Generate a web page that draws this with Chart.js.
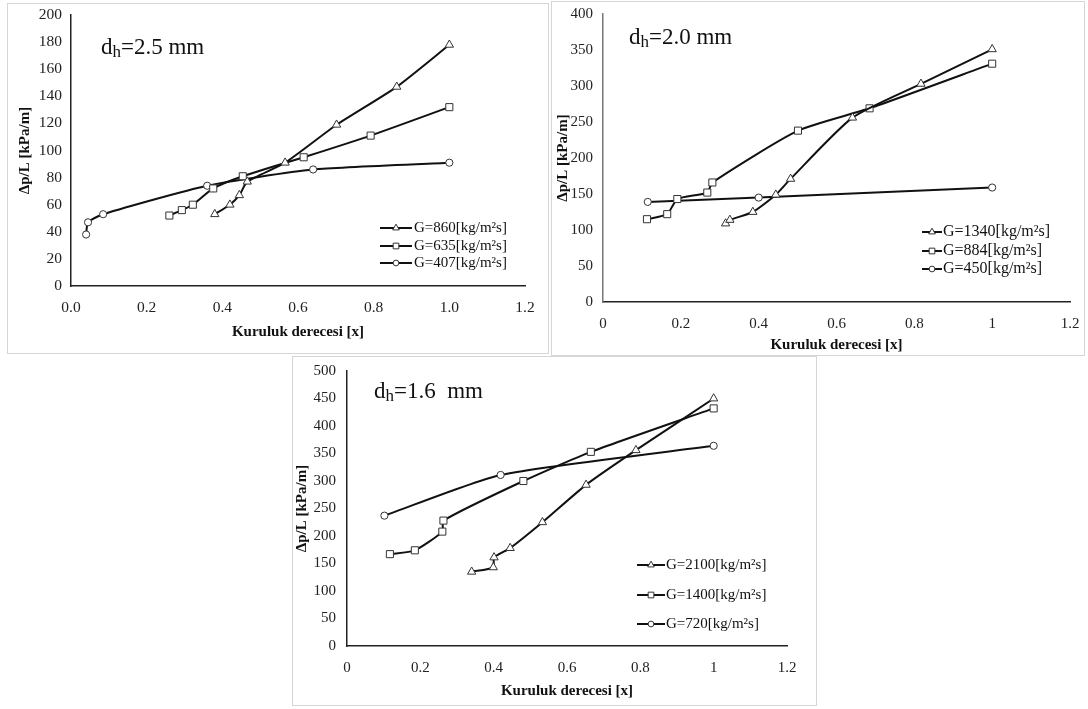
<!DOCTYPE html>
<html><head><meta charset="utf-8">
<script src="https://cdn.jsdelivr.net/npm/chart.js@4/dist/chart.umd.min.js"></script>
<style>
body{margin:0;background:#fff;width:1088px;height:709px;position:relative;overflow:hidden;font-family:"Liberation Serif","Times New Roman",serif;}
.frame{position:absolute;border:1px solid #d6d6d6;box-sizing:border-box;}
canvas{position:absolute;}
.ttl{position:absolute;font-size:23px;line-height:22px;color:#111;white-space:pre;}
.ttl sub{font-size:17px;vertical-align:baseline;position:relative;top:3px;}
</style></head><body>
<div class="frame" style="left:7px;top:3px;width:542px;height:351px"></div>
<div class="frame" style="left:551px;top:1px;width:534px;height:355px"></div>
<div class="frame" style="left:292px;top:356px;width:525px;height:350px"></div>
<canvas id="c1" width="541" height="350" style="left:7px;top:3px"></canvas>
<canvas id="c2" width="533" height="353" style="left:551px;top:2px"></canvas>
<canvas id="c3" width="522" height="348" style="left:293px;top:357px"></canvas>
<div class="ttl" style="left:101px;top:36px">d<sub>h</sub>=2.5 mm</div>
<div class="ttl" style="left:629px;top:26px">d<sub>h</sub>=2.0 mm</div>
<div class="ttl" style="left:374px;top:380px">d<sub>h</sub>=1.6  mm</div>
<script>
// ---- tick labels ----
const xTickValues = [0, 0.2, 0.4, 0.6, 0.8, 1.0, 1.2];
const xTickLabels1 = ['0.0', '0.2', '0.4', '0.6', '0.8', '1.0', '1.2'];
const xTickLabels23 = ['0', '0.2', '0.4', '0.6', '0.8', '1', '1.2'];
const yTicks1 = [0, 20, 40, 60, 80, 100, 120, 140, 160, 180, 200];
const yTicks2 = [0, 50, 100, 150, 200, 250, 300, 350, 400];
const yTicks3 = [0, 50, 100, 150, 200, 250, 300, 350, 400, 450, 500];

// ---- chart 1: dh = 2.5 mm ----
const labels1 = ['G=860[kg/m²s]', 'G=635[kg/m²s]', 'G=407[kg/m²s]'];
const x1_860 = [0.38, 0.42, 0.445, 0.466, 0.566, 0.702, 0.861, 1.0];
const y1_860 = [53, 60, 67, 77, 91, 119, 147, 178];
const x1_635 = [0.26, 0.293, 0.322, 0.376, 0.454, 0.615, 0.792, 1.0];
const y1_635 = [52, 56, 60, 72, 81, 95, 111, 132];
const x1_407 = [0.04, 0.045, 0.085, 0.36, 0.64, 1.0];
const y1_407 = [38, 47, 53, 74, 86, 91];

// ---- chart 2: dh = 2.0 mm ----
const labels2 = ['G=1340[kg/m²s]', 'G=884[kg/m²s]', 'G=450[kg/m²s]'];
const x2_1340 = [0.315, 0.326, 0.385, 0.444, 0.482, 0.641, 0.817, 1.0];
const y2_1340 = [109, 114, 125, 149, 171, 256, 303, 351];
const x2_884 = [0.113, 0.165, 0.191, 0.268, 0.281, 0.501, 0.685, 1.0];
const y2_884 = [115, 122, 143, 152, 166, 238, 269, 331];
const x2_450 = [0.115, 0.4, 1.0];
const y2_450 = [139, 145, 159];

// ---- chart 3: dh = 1.6 mm ----
const labels3 = ['G=2100[kg/m²s]', 'G=1400[kg/m²s]', 'G=720[kg/m²s]'];
const x3_2100 = [0.34, 0.399, 0.401, 0.445, 0.533, 0.652, 0.788, 1.0];
const y3_2100 = [135, 143, 161, 178, 225, 293, 356, 450];
const x3_1400 = [0.117, 0.185, 0.26, 0.263, 0.481, 0.665, 1.0];
const y3_1400 = [167, 174, 208, 228, 300, 353, 432];
const x3_720 = [0.102, 0.419, 1.0];
const y3_720 = [237, 311, 364];

const xAxisTitle = 'Kuruluk derecesi [x]';
const yAxisTitle = 'Δp/L [kPa/m]';

const styles = ['triangle', 'rect', 'circle'];
const radii = {triangle: 4.8, rect: 5, circle: 3.6};

function pts(xs, ys) { return xs.map((x, i) => ({x: x, y: ys[i]})); }

function drawMarker(ctx, style, x, y, r) {
  ctx.beginPath();
  if (style === 'triangle') {
    ctx.moveTo(x, y - r);
    ctx.lineTo(x - r * 0.866, y + r * 0.5);
    ctx.lineTo(x + r * 0.866, y + r * 0.5);
    ctx.closePath();
  } else if (style === 'rect') {
    const s = r * Math.SQRT1_2;
    ctx.rect(x - s, y - s, 2 * s, 2 * s);
  } else {
    ctx.arc(x, y, r, 0, Math.PI * 2);
  }
  ctx.fillStyle = '#fff';
  ctx.fill();
  ctx.lineWidth = 1;
  ctx.strokeStyle = '#333';
  ctx.stroke();
}

const legendPlugin = {
  id: 'customLegend',
  afterDraw(chart, args, o) {
    const ctx = chart.ctx;
    ctx.save();
    chart.data.datasets.forEach((ds, i) => {
      const y = o.rows[i];
      ctx.beginPath();
      ctx.moveTo(o.x, y);
      ctx.lineTo(o.x + o.w, y);
      ctx.lineWidth = 2;
      ctx.strokeStyle = '#111';
      ctx.stroke();
      drawMarker(ctx, ds.pointStyle, o.x + o.w / 2, y, radii[ds.pointStyle] * 0.8);
      ctx.font = o.font;
      ctx.fillStyle = '#111';
      ctx.textBaseline = 'middle';
      ctx.textAlign = 'left';
      ctx.fillText(ds.label, o.x + o.w + o.gap, y);
    });
    ctx.restore();
  }
};

Chart.defaults.font.family = '"Liberation Serif", "Times New Roman", serif';
Chart.defaults.color = '#111';

function makeChart(id, cfg) {
  const datasets = cfg.series.map((s, i) => ({
    label: cfg.labels[i],
    data: pts(s[0], s[1]),
    showLine: true,
    borderColor: '#111',
    borderWidth: 2,
    tension: 0.2,
    pointStyle: styles[i],
    pointRadius: radii[styles[i]],
    pointHoverRadius: radii[styles[i]],
    pointBackgroundColor: '#fff',
    pointBorderColor: '#333',
    pointBorderWidth: 1
  }));
  const hiddenGrid = (tl) => ({display: true, drawOnChartArea: false, drawTicks: true,
                               tickLength: tl, tickColor: 'rgba(0,0,0,0)', color: 'rgba(0,0,0,0)'});
  return new Chart(document.getElementById(id), {
    type: 'scatter',
    data: {datasets},
    plugins: [legendPlugin],
    options: {
      responsive: false,
      animation: false,
      devicePixelRatio: 1,
      layout: {padding: cfg.padding},
      plugins: {
        legend: {display: false},
        tooltip: {enabled: false},
        customLegend: cfg.legend
      },
      scales: {
        x: {
          type: 'linear', min: 0, max: 1.2,
          grid: hiddenGrid(13),
          border: {display: true, color: '#222', width: 1.5},
          afterBuildTicks: s => { s.ticks = xTickValues.map(v => ({value: v})); },
          afterFit: s => { s.height = cfg.xH; },
          ticks: {
            padding: 0, maxRotation: 0, autoSkip: false,
            font: {size: cfg.tickSize}, color: '#222',
            callback: (v, i) => cfg.xLabels[i]
          },
          title: {display: true, text: xAxisTitle, font: {size: 15, weight: 'bold'}, color: '#111',
                  padding: {top: 0, bottom: cfg.xTitlePad}}
        },
        y: {
          type: 'linear', min: 0, max: cfg.yTicks[cfg.yTicks.length - 1],
          grid: hiddenGrid(cfg.yPad),
          border: {display: true, color: cfg.yBorder, width: 1.5},
          afterBuildTicks: s => { s.ticks = cfg.yTicks.map(v => ({value: v})); },
          afterFit: s => { s.width = cfg.yW; },
          ticks: {padding: 0, font: {size: cfg.tickSize}, color: '#222',
                  callback: v => String(v)},
          title: {display: true, text: yAxisTitle, font: {size: 15, weight: 'bold'}, color: '#111',
                  padding: {top: cfg.yTitlePad, bottom: 0}}
        }
      }
    }
  });
}

makeChart('c1', {
  labels: labels1,
  series: [[x1_860, y1_860], [x1_635, y1_635], [x1_407, y1_407]],
  padding: {left: 0, top: 12, right: 23, bottom: 0},
  xH: 67, yW: 64, yPad: 9, tickSize: 15.5,
  xLabels: xTickLabels1, yTicks: yTicks1, yBorder: '#222',
  xTitlePad: 12, yTitlePad: 9,
  legend: {x: 373, w: 32, gap: 2, rows: [225, 243, 260], font: '15px "Liberation Serif"'}
});

makeChart('c2', {
  labels: labels2,
  series: [[x2_1340, y2_1340], [x2_884, y2_884], [x2_450, y2_450]],
  padding: {left: 0, top: 12, right: 14, bottom: 0},
  xH: 53, yW: 52, yPad: 10, tickSize: 15,
  xLabels: xTickLabels23, yTicks: yTicks2, yBorder: '#777',
  xTitlePad: 1, yTitlePad: 3,
  legend: {x: 371, w: 20, gap: 1, rows: [230, 249, 267], font: '16px "Liberation Serif"'}
});

makeChart('c3', {
  labels: labels3,
  series: [[x3_2100, y3_2100], [x3_1400, y3_1400], [x3_720, y3_720]],
  padding: {left: 0, top: 14, right: 28, bottom: 0},
  xH: 59, yW: 54, yPad: 11, tickSize: 15,
  xLabels: xTickLabels23, yTicks: yTicks3, yBorder: '#222',
  xTitlePad: 5, yTitlePad: 0,
  legend: {x: 344, w: 28, gap: 1, rows: [208, 238, 267], font: '15px "Liberation Serif"'}
});
</script>
</body></html>
